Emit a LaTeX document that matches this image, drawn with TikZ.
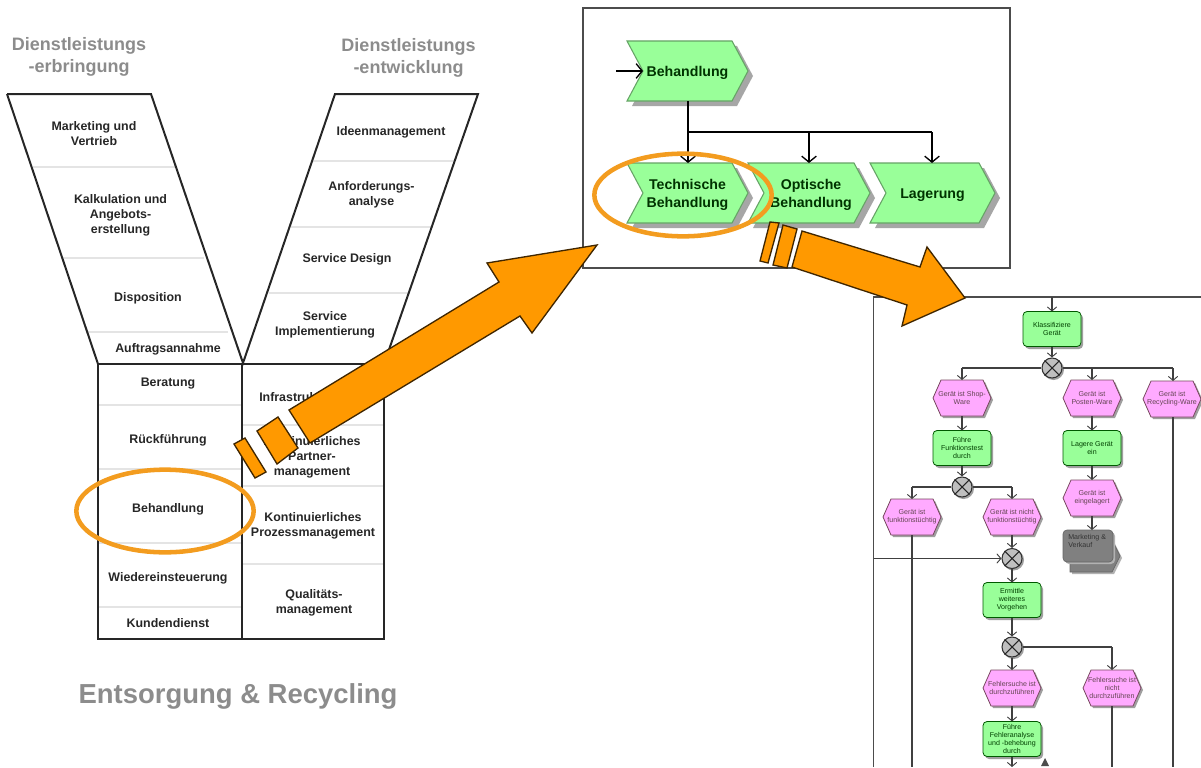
\documentclass[tikz,border=0pt]{standalone}
\usepackage{fontspec}
\setmainfont{Liberation Sans}
\usetikzlibrary{arrows.meta,shapes.geometric}
\definecolor{orangeA}{HTML}{FF9900}
\definecolor{orangeB}{HTML}{F39C1F}
\definecolor{greenA}{HTML}{99FF99}
\definecolor{pinkA}{HTML}{FFAAFF}
\definecolor{grayT}{HTML}{8C8C8C}
\definecolor{divA}{HTML}{E4E4E4}
\tikzset{
  vline/.style={draw=black!85,line width=1.5pt},
  divline/.style={draw=divA,line width=1pt},
  hdr/.style={font=\fontsize{13.5pt}{16.5pt}\selectfont\bfseries,text=grayT,align=center,inner sep=0pt},
  lab/.style={font=\fontsize{9.3pt}{11.2pt}\selectfont\bfseries,text=black!85,align=center,inner sep=0pt},
  ring/.style={ellipse,draw=orangeB,line width=3.4pt,inner sep=0pt,minimum width=133pt,minimum height=62pt},
  bigarrow/.style={fill=orangeA,draw=black!75!orangeA,line width=1pt,line join=miter},
  panel/.style={draw=black!70,line width=1pt},
  chev/.style={fill=greenA,draw=black!60!green!60,line width=.8pt},
  shad/.style={fill=gray!70,draw=none},
  chevlab/.style={font=\fontsize{10.6pt}{13pt}\selectfont\bfseries,text=green!20!black,align=center,inner sep=0pt},
  cconn/.style={draw=black,line width=1.3pt,-{Straight Barb[length=4.5pt,width=11pt,line width=1pt]}},
  cline/.style={draw=black,line width=1.3pt},
  flow/.style={font=\fontsize{5.3pt}{6.1pt}\selectfont,align=center,inner sep=0pt},
  fconn/.style={draw=black!75,line width=.8pt,-{Straight Barb[length=3pt,width=7pt,line width=.7pt]}},
  fline/.style={draw=black!75,line width=.8pt},
  fgreen/.style={fill=greenA,draw=green!35!black,line width=.6pt,rounded corners=3pt},
  fpink/.style={fill=pinkA,draw=magenta!40!black,line width=.6pt},
  fshad/.style={fill=gray!75,draw=none},
  xorn/.style={circle,fill=gray!50,draw=black!80,line width=.8pt,minimum size=15pt,inner sep=0pt},
}
% chevron: name, cx, cy, halfwidth, text
\newcommand{\chevnode}[5]{%
  \begin{scope}[shift={(#2,#3)}]
    \fill[shad] ({-#4+5},-25)--({#4-16+5},-25)--({#4+5},5)--({#4-16+5},35)--({-#4+5},35)--({-#4+16+5},5)--cycle;
    \path[chev] ({-#4},-30)--({#4-16},-30)--(#4,0)--({#4-16},30)--({-#4},30)--({-#4+16},0)--cycle;
  \end{scope}
  \node[chevlab,minimum height=45pt,yshift=-1.5pt] (#1) at (#2,#3) {#5};}
% function (rounded box): name, cx, cy, text
\newcommand{\fnnode}[4]{%
  \begin{scope}[shift={(#2,#3)}]
    \fill[fshad,rounded corners=3pt] (-27,-15)rectangle(31,20);
    \path[fgreen] (-29,-17.5)rectangle(29,17.5);
  \end{scope}
  \node[flow,text=green!25!black,minimum width=43.5pt,minimum height=26.2pt] (#1) at (#2,#3) {#4};}
% event (hexagon): name, cx, cy, text
\newcommand{\evnode}[4]{%
  \begin{scope}[shift={(#2,#3)}]
    \fill[fshad] (-19,-16)--(23,-16)--(31,2)--(23,20)--(-19,20)--(-27,2)--cycle;
    \path[fpink] (-21,-18)--(21,-18)--(29,0)--(21,18)--(-21,18)--(-29,0)--cycle;
  \end{scope}
  \node[flow,text=magenta!30!black,minimum width=43.5pt,minimum height=27pt] (#1) at (#2,#3) {#4};}
\newcommand{\xornode}[3]{%
  \fill[gray!75] ({#2+1.5},{#3+1.5}) circle [radius=10.5];
  \node[xorn] (#1) at (#2,#3) {};
  \draw[black!85,line width=.8pt] (#1.north west)--(#1.south east) (#1.north east)--(#1.south west);}
\begin{document}
\begin{tikzpicture}[x=0.75pt,y=-0.75pt]
\useasboundingbox (0,0) rectangle (1201,767);
% headers
\node[hdr] (h1) at (79,57) {Dienstleistungs\\-erbringung};
\node[hdr] (h2) at (408.5,58) {Dienstleistungs\\-entwicklung};
\node[font=\fontsize{20.6pt}{24pt}\selectfont\bfseries,text=grayT,inner sep=0pt] (h3) at (238,696.5) {Entsorgung \& Recycling};
% dividers
\draw[divline] (33,167)--(176,167) (63,258)--(204,258) (88,332)--(228,332);
\draw[divline] (313,161)--(454,161) (291,227)--(431,227) (269,293)--(409,293);
\draw[divline] (98,405)--(242,405) (98,469)--(242,469) (98,543)--(242,543) (98,607)--(242,607);
\draw[divline] (242,425)--(384,425) (242,486)--(384,486) (242,564)--(384,564);
% V outlines
\draw[vline,line join=miter] (7,94)--(151,94)--(243,363)--(335,94)--(478,94)--(384,364);
\draw[vline] (7,94)--(98,364);
\draw[vline] (98,364)rectangle(384,639);
\draw[vline] (242,364)--(242,639);
% labels
\node[lab] (a1) at (94,133.5) {Marketing und\\Vertrieb};
\node[lab] (a2) at (120.5,215) {Kalkulation und\\Angebots-\\erstellung};
\node[lab] (a3) at (148,298) {Disposition};
\node[lab] (a4) at (168,349) {Auftragsannahme};
\node[lab] (a5) at (168,384) {Beratung};
\node[lab] (a6) at (168,440) {Rückführung};
\node[lab] (a7) at (168,509) {Behandlung};
\node[lab] (a8) at (168,578) {Wiedereinsteuerung};
\node[lab] (a9) at (168,623) {Kundendienst};
\node[lab] (b1) at (391,132) {Ideenmanagement};
\node[lab] (b2) at (371.5,195) {Anforderungs-\\analyse};
\node[lab] (b3) at (347,259) {Service Design};
\node[lab] (b4) at (325,325) {Service\\Implementierung};
\node[lab,anchor=west] (b5) at (259,397) {Infrastruktur};
\node[lab] (b6) at (312,457) {Kontinuierliches\\Partner-\\management};
\node[lab] (b7) at (313,526) {Kontinuierliches\\Prozessmanagement};
\node[lab] (b8) at (314,603) {Qualitäts-\\management};
% ring left
\node[ring] (r1) at (165,511) {};
% panel 2
\draw[panel,fill=white] (583,8) rectangle (1010,268);
\chevnode{c1}{687.5}{71}{60.5}{Behandlung}
\chevnode{c2}{687.5}{193}{60.5}{Technische\\Behandlung}
\chevnode{c3}{809}{193}{61}{\hspace*{3pt}Optische\\\hspace*{3pt}Behandlung}
\chevnode{c4}{932.5}{193}{62.5}{Lagerung}
\coordinate (inp) at (616,71);
\coordinate (cj) at (688,132);
\draw[cconn] (inp) -- (643,71);
\draw[cline] (688,101) -- (cj);
\draw[cconn] (cj) -- (688,163);
\draw[cline] (cj) -- (932,132);
\draw[cconn] (809,132) -- (809,163);
\draw[cconn] (932,132) -- (932,163);
\node[ring] (r2) at (683,195) {};
% panel 3
\fill[white] (873.5,297) rectangle (1201,767);
\draw[black!70,line width=1.2pt] (873.5,767) -- (873.5,297) -- (1201,297);
\coordinate (ftop) at (1052,297);
\fnnode{f1}{1052}{329}{Klassifiziere\\Gerät}
\xornode{x1}{1052}{368}
\evnode{e1}{962}{398}{Gerät ist Shop-\\Ware}
\evnode{e2}{1092}{398}{Gerät ist\\Posten-Ware}
\evnode{e3}{1172}{399}{Gerät ist\\Recycling-Ware}
\fnnode{f2}{962}{448}{Führe\\Funktionstest\\durch}
\fnnode{f3}{1092}{448}{Lagere Gerät\\ein}
\evnode{e4}{1092}{498}{Gerät ist\\eingelagert}
\xornode{x2}{962}{487}
\evnode{e5}{912}{517}{Gerät ist\\funktionstüchtig}
\evnode{e6}{1012}{517}{Gerät ist nicht\\funktionstüchtig}
% process interface
\begin{scope}[shift={(1092,551)}]
  \fill[gray!60] (-20,-9)--(22,-9)--(30,7)--(22,23)--(-20,23)--cycle;
  \path[fill=gray,draw=black!60,line width=.5pt] (-22,-11)--(20,-11)--(28,5)--(20,21)--(-22,21)--cycle;
  \fill[gray!60,rounded corners=3pt] (-27,-19)rectangle(23,13);
  \path[fill=gray,draw=black!60,line width=.5pt,rounded corners=3pt] (-29,-21)rectangle(21,11);
\end{scope}
\node[flow,align=left,anchor=north west,text=black!80] (pi) at (1068,534) {Marketing \&\\Verkauf};
\coordinate (pitop) at (1092,530);
\xornode{x3}{1012}{558.5}
\coordinate (mrg) at (873.5,558.5);
\fnnode{f4}{1012}{600}{Ermittle\\weiteres\\Vorgehen}
\xornode{x4}{1012}{647}
\evnode{e7}{1012}{688}{Fehlersuche ist\\durchzuführen}
\evnode{e8}{1112}{688}{Fehlersuche ist\\nicht\\durchzuführen}
\fnnode{f5}{1012}{739}{Führe\\Fehleranalyse\\und -behebung\\durch}
\coordinate (o1) at (912,767);
\coordinate (o2) at (1173,767);
\coordinate (o3) at (1112,767);
\coordinate (o4) at (1012,767);
\coordinate (k1) at (962,368);
\coordinate (k2) at (1092,368);
\coordinate (k3) at (1173,368);
\coordinate (k4) at (912,487);
\coordinate (k5) at (1012,487);
\coordinate (k6) at (1112,647);
\draw[fconn] (ftop) -- (1052,311.5);
\draw[fconn] (1052,346.5) -- (x1.north);
\draw[fline] (x1.west) -- (k1); \draw[fconn] (k1) -- (962,380);
\draw[fline] (x1.east) -- (k3); \draw[fconn] (k3) -- (1173,381);
\draw[fconn] (k2) -- (1092,380);
\draw[fconn] (962,416) -- (962,430.5);
\draw[fconn] (1092,416) -- (1092,430.5);
\draw[fconn] (962,465.5) -- (x2.north);
\draw[fconn] (1092,465.5) -- (1092,480);
\draw[fconn] (1092,516) -- (pitop);
\draw[fline] (x2.west) -- (k4); \draw[fconn] (k4) -- (912,499);
\draw[fline] (x2.east) -- (k5); \draw[fconn] (k5) -- (1012,499);
\draw[fconn] (1012,535) -- (x3.north);
\draw[fconn] (mrg) -- (x3.west);
\draw[fconn] (x3.south) -- (1012,582.5);
\draw[fconn] (1012,617.5) -- (x4.north);
\draw[fconn] (x4.south) -- (1012,670);
\draw[fline] (x4.east) -- (k6); \draw[fconn] (k6) -- (1112,670);
\draw[fconn] (1012,706) -- (1012,721.5);
\draw[fline] (912,535) -- (o1);
\draw[fline] (1173,417) -- (o2);
\draw[fline] (1112,706) -- (o3);
\draw[fconn] (1012,756.5) -- (o4);
\fill[black!70] (1045,758)--(1049,766)--(1041,766)--cycle;
% big arrow 1
\path[bigarrow] (289,410)--(499,282)--(487,263)--(597,245)--(532,333)--(520,316)--(310,443)--cycle;
\path[bigarrow] (257,431)--(278,417)--(298,448)--(277,464)--cycle;
\path[bigarrow] (234,444)--(245,438)--(266,472)--(255,478)--cycle;
% big arrow 2
\path[bigarrow] (802,231)--(920,267)--(927,247)--(965,298)--(902,326)--(907,305)--(792,267)--cycle;
\path[bigarrow] (783,225)--(797,229)--(787,268)--(773,265)--cycle;
\path[bigarrow] (770,222)--(779,223)--(768,263)--(760,261)--cycle;
\end{tikzpicture}
\end{document}
